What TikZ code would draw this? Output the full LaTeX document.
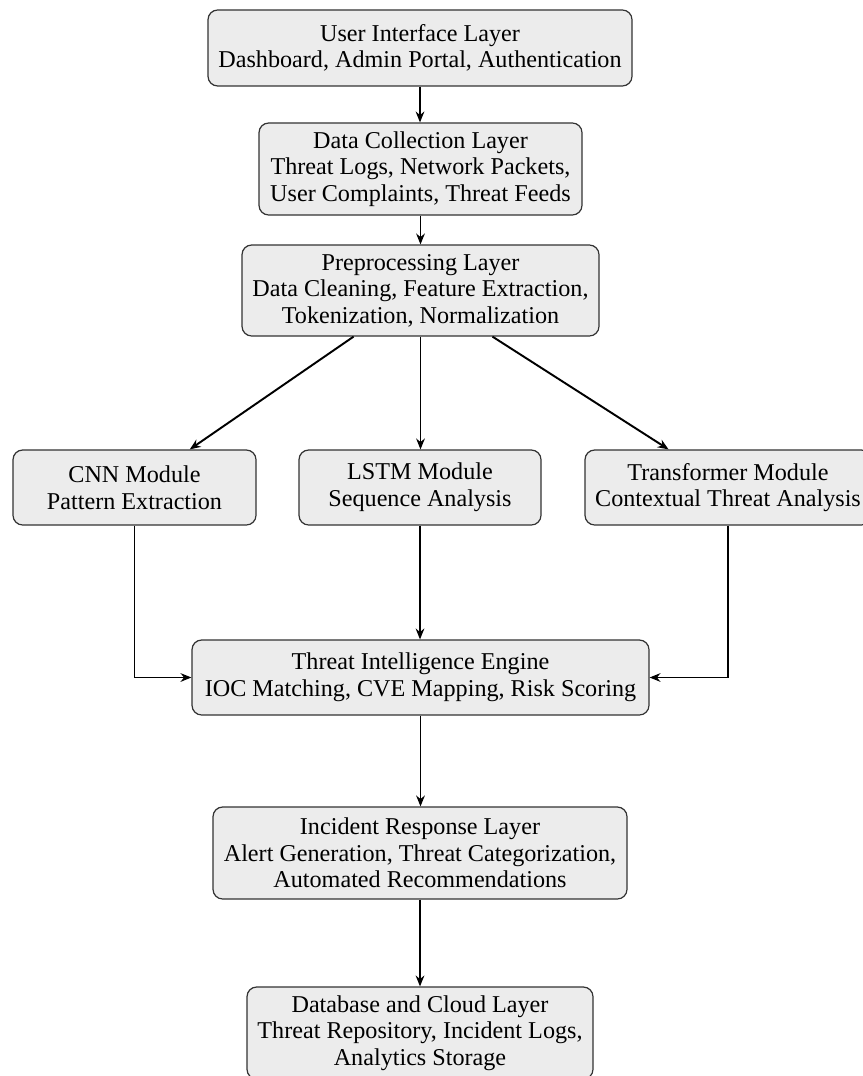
\documentclass[tikz,border=0pt]{standalone}
\usepackage{fontspec}
\setmainfont{Liberation Serif}
\usetikzlibrary{arrows.meta}
\def\pxu{0.414pt}
\begin{document}
\begin{tikzpicture}[x=0.414pt,y=-0.414pt,
  layer/.style={draw=black!80, fill=gray!15, rounded corners=4pt, align=center, inner sep=0pt,
    line width=0.5pt, font=\fontsize{10}{11}\selectfont},
  arr/.style={-{Stealth[length=4.5pt,width=3.6pt]}, line width=0.8pt}]
\useasboundingbox (0,0) rectangle (862,1076);
\node[layer, minimum width=424*\pxu, minimum height=76*\pxu] (ui) at (420,48) {User Interface Layer\\Dashboard, Admin Portal, Authentication};
\node[layer, minimum width=323*\pxu, minimum height=92*\pxu] (dc) at (420.5,169) {Data Collection Layer\\Threat Logs, Network Packets,\\User Complaints, Threat Feeds};
\node[layer, minimum width=357*\pxu, minimum height=91*\pxu] (pp) at (420.5,290.5) {Preprocessing Layer\\Data Cleaning, Feature Extraction,\\Tokenization, Normalization};
\node[layer, minimum width=243*\pxu, minimum height=75*\pxu] (cnn) at (134.5,487.5) {CNN Module\\Pattern Extraction};
\node[layer, minimum width=242*\pxu, minimum height=75*\pxu] (lstm) at (420,487.5) {LSTM Module\\Sequence Analysis};
\node[layer, minimum width=286*\pxu, minimum height=75*\pxu] (tr) at (728,487.5) {Transformer Module\\Contextual Threat Analysis};
\node[layer, minimum width=457*\pxu, minimum height=75*\pxu] (tie) at (420.5,677.5) {Threat Intelligence Engine\\IOC Matching, CVE Mapping, Risk Scoring};
\node[layer, minimum width=414*\pxu, minimum height=92*\pxu] (ir) at (420,853) {Incident Response Layer\\Alert Generation, Threat Categorization,\\Automated Recommendations};
\node[layer, minimum width=346*\pxu, minimum height=92*\pxu] (db) at (420,1033) {Database and Cloud Layer\\Threat Repository, Incident Logs,\\Analytics Storage};
\draw[arr] (ui.south) -- (ui.south |- dc.north);
\draw[arr] (dc.south) -- (dc.south |- pp.north);
\draw[arr] (pp) -- (cnn);
\draw[arr] (pp) -- (tr);
\draw[arr] (pp.south) -- (pp.south |- lstm.north);
\draw[arr] (cnn.south) |- (tie.west);
\draw[arr] (tr.south) |- (tie.east);
\draw[arr] (lstm.south) -- (lstm.south |- tie.north);
\draw[arr] (tie.south) -- (tie.south |- ir.north);
\draw[arr] (ir.south) -- (ir.south |- db.north);
\end{tikzpicture}
\end{document}
